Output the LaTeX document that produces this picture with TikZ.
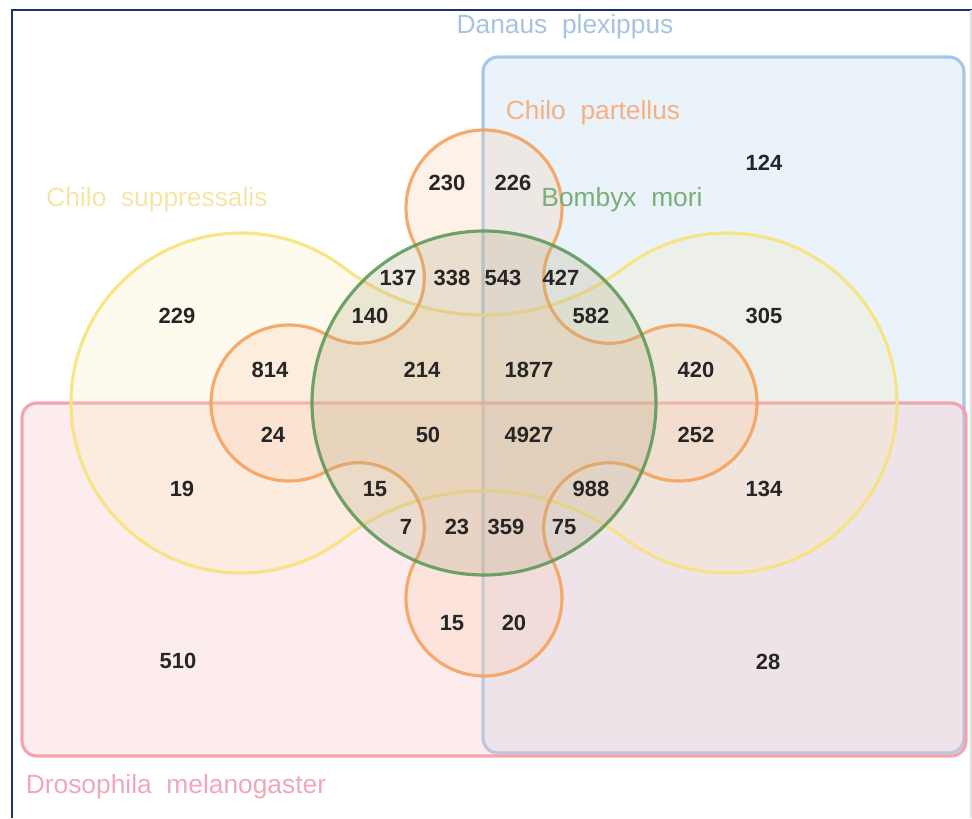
\documentclass[tikz,border=0pt]{standalone}
\usepackage{fontspec}
\setmainfont{Liberation Sans}
\usepackage{tikz}
\usetikzlibrary{positioning}
\usepackage{xcolor}

\definecolor{frameblue}{HTML}{1A3270}
\definecolor{danline}{HTML}{9DC3E6}
\definecolor{danfill}{HTML}{BDD7EE}
\definecolor{danname}{HTML}{A7C3E2}
\definecolor{droline}{HTML}{F29CA8}
\definecolor{drofill}{HTML}{F9C0C6}
\definecolor{droname}{HTML}{F2A7B8}
\definecolor{supline}{HTML}{F6E37C}
\definecolor{supfill}{HTML}{F9E79F}
\definecolor{supname}{HTML}{F3E6A6}
\definecolor{parline}{HTML}{F5A25D}
\definecolor{parfill}{HTML}{F8CBAD}
\definecolor{parname}{HTML}{F4B183}
\definecolor{bomline}{HTML}{5F9A5A}
\definecolor{bomfill}{HTML}{B3A880}
\definecolor{bomname}{HTML}{79AE79}

\tikzset{
  cnt/.style={font=\fontsize{12.5}{15}\selectfont\bfseries, text=black!85, inner sep=1pt},
  setlabel/.style={font=\fontsize{15}{18}\selectfont, inner sep=0pt},
  setline/.style={line width=1.8pt, draw opacity=0.9},
}

\begin{document}
\begin{tikzpicture}[scale=0.02]
  \useasboundingbox (-484,-415) rectangle (488,403);
  % frame
  \draw[frameblue, line width=1.6pt] (-472,-415)--(-472,393)--(488,393);
  \draw[black!12, line width=0.8pt] (487,393)--(487,-415);

  % Danaus plexippus and Drosophila melanogaster
  \draw[setline, draw=danline, fill=danfill, fill opacity=0.3, rounded corners=0.3cm] (-1,-350) rectangle (480,346);
  \draw[setline, draw=droline, fill=drofill, fill opacity=0.3, rounded corners=0.3cm] (-462,-353) rectangle (482,0);

  % Chilo suppressalis
  \draw[setline, draw=supline, fill=supfill, fill opacity=0.18] (-243,0) ++(52.7:170)
    arc[start angle=52.7, end angle=307.3, radius=170]
    arc[start angle=127.3, end angle=52.7, radius=231.05]
    arc[start angle=232.7, end angle=487.3, radius=170]
    arc[start angle=-52.7, end angle=-127.3, radius=231.05] -- cycle;

  % Chilo partellus
  \draw[setline, draw=parline, fill=parfill, fill opacity=0.28] (0,195) ++(-29.25:78)
    arc[start angle=-29.25, end angle=209.25, radius=78]
    arc[start angle=29.25, end angle=-119.25, radius=65.27]
    arc[start angle=60.75, end angle=299.25, radius=78]
    arc[start angle=119.25, end angle=-29.25, radius=65.27]
    arc[start angle=150.75, end angle=389.25, radius=78]
    arc[start angle=209.25, end angle=60.75, radius=65.27]
    arc[start angle=240.75, end angle=479.25, radius=78]
    arc[start angle=299.25, end angle=150.75, radius=65.27] -- cycle;

  % Bombyx mori
  \draw[setline, draw=bomline, fill=bomfill, fill opacity=0.25] (0,0) circle[radius=172];

  % set names
  \node[setlabel, text=danname] (danaus) at (81,376) {Danaus\ \ plexippus};
  \node[setlabel, text=parname] (partellus) at (109,290) {Chilo\ \ partellus};
  \node[setlabel, text=supname] (suppressalis) at (-327,203) {Chilo\ \ suppressalis};
  \node[setlabel, text=bomname] (bombyx) at (138,203) {Bombyx\ \ mori};
  \node[setlabel, text=droname] (drosophila) at (-308,-384) {Drosophila\ \ melanogaster};

  % counts
  \node[cnt] (n124) at (280,240) {124};
  \node[cnt] (n230) at (-37,220) {230};
  \node[cnt] (n226) at (29,220) {226};
  \node[cnt] (n137) at (-86,125) {137};
  \node[cnt] (n338) at (-32,125) {338};
  \node[cnt] (n543) at (19,125) {543};
  \node[cnt] (n427) at (77,125) {427};
  \node[cnt] (n229) at (-307,87) {229};
  \node[cnt] (n140) at (-114,87) {140};
  \node[cnt] (n582) at (107,87) {582};
  \node[cnt] (n305) at (280,87) {305};
  \node[cnt] (n814) at (-214,33) {814};
  \node[cnt] (n214) at (-62,33) {214};
  \node[cnt] (n1877) at (45,33) {1877};
  \node[cnt] (n420) at (212,33) {420};
  \node[cnt] (n24) at (-211,-32) {24};
  \node[cnt] (n50) at (-56,-32) {50};
  \node[cnt] (n4927) at (45,-32) {4927};
  \node[cnt] (n252) at (212,-32) {252};
  \node[cnt] (n19) at (-302,-86) {19};
  \node[cnt] (n15a) at (-109,-86) {15};
  \node[cnt] (n988) at (107,-86) {988};
  \node[cnt] (n134) at (280,-86) {134};
  \node[cnt] (n7) at (-78,-124) {7};
  \node[cnt] (n23) at (-27,-124) {23};
  \node[cnt] (n359) at (22,-124) {359};
  \node[cnt] (n75) at (80,-124) {75};
  \node[cnt] (n15b) at (-32,-220) {15};
  \node[cnt] (n20) at (30,-220) {20};
  \node[cnt] (n510) at (-306,-258) {510};
  \node[cnt] (n28) at (284,-259) {28};
\end{tikzpicture}
\end{document}
